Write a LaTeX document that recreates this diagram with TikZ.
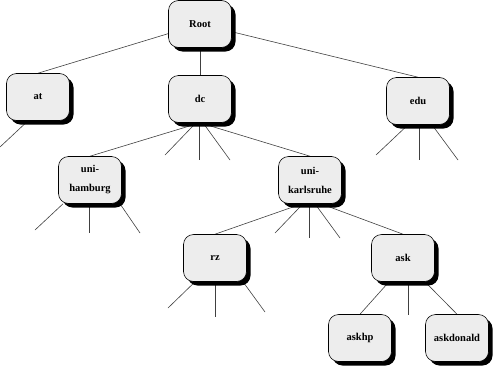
\documentclass[tikz,border=0pt]{standalone}
\usepackage{fontspec}
\setmainfont{Liberation Serif}
\usetikzlibrary{shadows,backgrounds}
\begin{document}
\begin{tikzpicture}[x=1pt,y=-1pt,
	box/.style={draw=black,line width=0.6pt,fill=black!7,rounded corners=10pt,
		minimum width=63pt,minimum height=47pt,align=center,
		font=\fontsize{10.5}{19}\selectfont\bfseries,
		drop shadow={shadow xshift=4pt,shadow yshift=-4pt,fill=black,opacity=1}},
	link/.style={draw=black!75,line width=0.6pt}]
		\useasboundingbox (0,0) rectangle (494,367);
		% domain tree
		\node[box] (root) at (200,24) {Root};
		\node[box] (at) at (38,97) {at};
		\node[box] (dc) at (200,99) {dc};
		\node[box] (edu) at (418,101) {edu};
		\node[box] (hamburg) at (90,180) {uni-\\hamburg};
		\node[box] (karlsruhe) at (310,180) {uni-\\karlsruhe};
		\node[box] (rz) at (215,258) {rz};
		\node[box] (ask) at (403,258) {ask};
		\node[box] (askhp) at (360,338) {askhp};
		\node[box] (askdonald) at (457,338) {askdonald};
		% loose ends
		\foreach \n/\x/\y in {at1/0/147,dc1/165/155,dc2/199/160,dc3/230/160,
			edu1/376/155,edu2/419/160,edu3/458/160,ham1/35/230,ham2/89/233,ham3/140/233,
			ka1/275/233,ka2/309/238,ka3/340/238,rz1/168/308,rz2/215/317,rz3/265/312,ask1/408/315}
			\coordinate (\n) at (\x,\y);
		\begin{scope}[on background layer]
			\draw[link] (root) -- (at.north);
			\draw[link] (root) -- (dc.north);
			\draw[link] (root) -- (edu.north);
			\draw[link] (dc.south) -- (hamburg.north);
			\draw[link] (dc.south) -- (karlsruhe.north);
			\draw[link] ([xshift=-8pt]karlsruhe.south) -- (rz.north);
			\draw[link] ([xshift=11pt]karlsruhe.south) -- (ask.north);
			\draw[link] ([xshift=-14pt]ask.south) -- (askhp.north);
			\draw[link] ([xshift=22pt]ask.south) -- (askdonald.north);
			\foreach \p/\d/\e in {at/-10/at1,dc/-4/dc1,dc/-1/dc2,dc/3/dc3,
				edu/-10/edu1,edu/1/edu2,edu/14/edu3,hamburg/-27/ham1,hamburg/-1/ham2,hamburg/30/ham3,
				karlsruhe/-7/ka1,karlsruhe/-1/ka2,karlsruhe/5/ka3,rz/-20/rz1,rz/0/rz2,rz/28/rz3,ask/5/ask1}
				\draw[link] ([xshift=\d pt]\p.south) -- (\e);
		\end{scope}
	\end{tikzpicture}
\end{document}
